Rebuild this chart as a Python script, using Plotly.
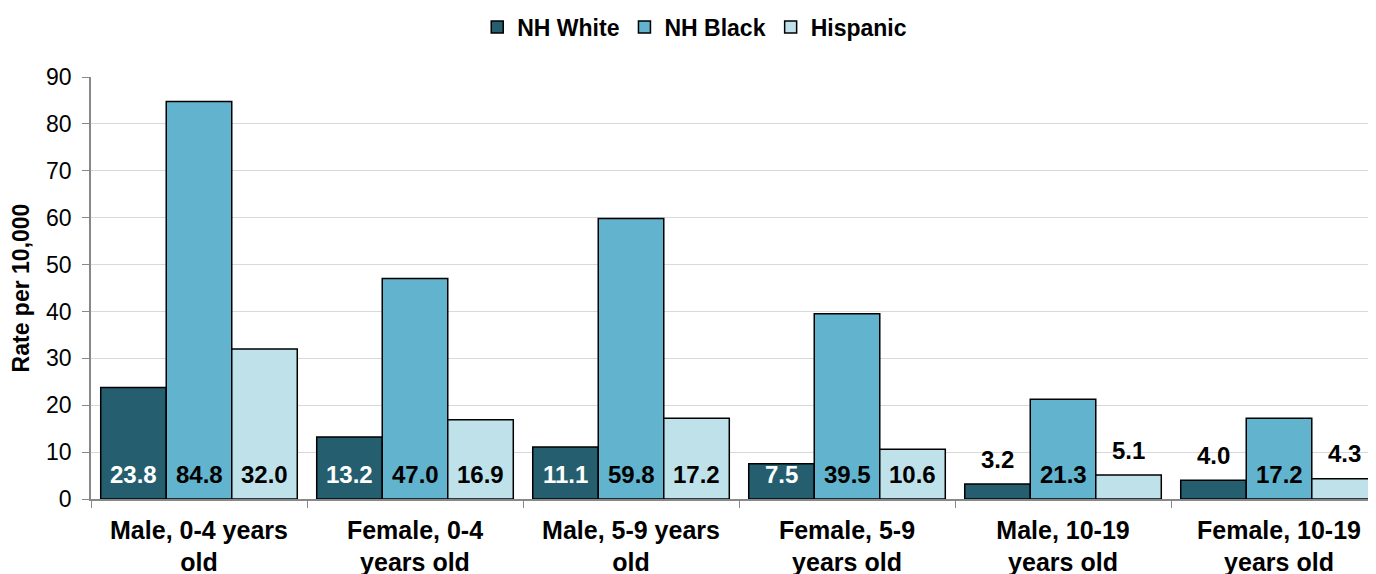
import plotly.graph_objects as go

categories = ["Male, 0-4 years<br>old", "Female, 0-4<br>years old", "Male, 5-9 years<br>old",
              "Female, 5-9<br>years old", "Male, 10-19<br>years old", "Female, 10-19<br>years old"]
series_names = ["NH White", "NH Black", "Hispanic"]
nh_white = [23.8, 13.2, 11.1, 7.5, 3.2, 4.0]
nh_black = [84.8, 47.0, 59.8, 39.5, 21.3, 17.2]
hispanic = [32.0, 16.9, 17.2, 10.6, 5.1, 4.3]
colors = ["#255F6F", "#62B3CD", "#BEE1EA"]
label_colors = ["white", "black", "black"]

FONT = "Liberation Sans, Arial, sans-serif"
bargap = 0.09
values = [nh_white, nh_black, hispanic]

fig = go.Figure()
for name, vals, col in zip(series_names, values, colors):
    fig.add_trace(go.Bar(x=categories, y=vals, name=f"<b>{name}</b>",
                         marker=dict(color=col, line=dict(color="black", width=1.5))))

bw = (1 - bargap) / 3
annotations = []
for s, vals in enumerate(values):
    for i, v in enumerate(vals):
        inside = v >= 6
        annotations.append(dict(
            x=i + (s - 1) * bw, y=0 if inside else v, xref="x", yref="y",
            text=f"<b>{v:.1f}</b>", showarrow=False, yshift=25, yanchor="middle",
            font=dict(family=FONT, size=24, color=label_colors[s] if inside else "black")))

W, H = 1368, 566
fig.update_layout(
    width=W, height=H,
    margin=dict(l=83, r=0, t=69, b=75, autoexpand=False),
    plot_bgcolor="white", paper_bgcolor="white",
    barmode="group", bargap=bargap, bargroupgap=0,
    font=dict(family=FONT, color="black"),
    legend=dict(orientation="h", x=0.502, xanchor="center", xref="container",
                y=1 - 19 / H, yanchor="middle", yref="container",
                font=dict(family=FONT, size=23, color="black"),
                traceorder="normal", itemwidth=30),
    annotations=annotations,
    xaxis=dict(range=[-0.5, 5.449], showline=True, linecolor="#888888", linewidth=1.5,
               ticks="outside", tickcolor="#888888", ticklen=7, tickson="boundaries",
               ticklabelstandoff=8, automargin=False,
               tickfont=dict(family=FONT, size=25, color="black"), showgrid=False),
    yaxis=dict(range=[0, 90], dtick=10, showline=True, linecolor="#888888", linewidth=1.5,
               ticks="outside", tickcolor="#888888", ticklen=7, automargin=False,
               ticklabelstandoff=6,
               gridcolor="#D9D9D9", gridwidth=1, zeroline=False,
               tickfont=dict(family=FONT, size=23, color="black"),
               title=dict(text="<b>Rate per 10,000</b>", font=dict(family=FONT, size=23, color="black"),
                          standoff=10)),
)
fig.update_xaxes(ticktext=[f"<b>{c}</b>" for c in categories], tickvals=categories)

fig.write_html("out.html")
